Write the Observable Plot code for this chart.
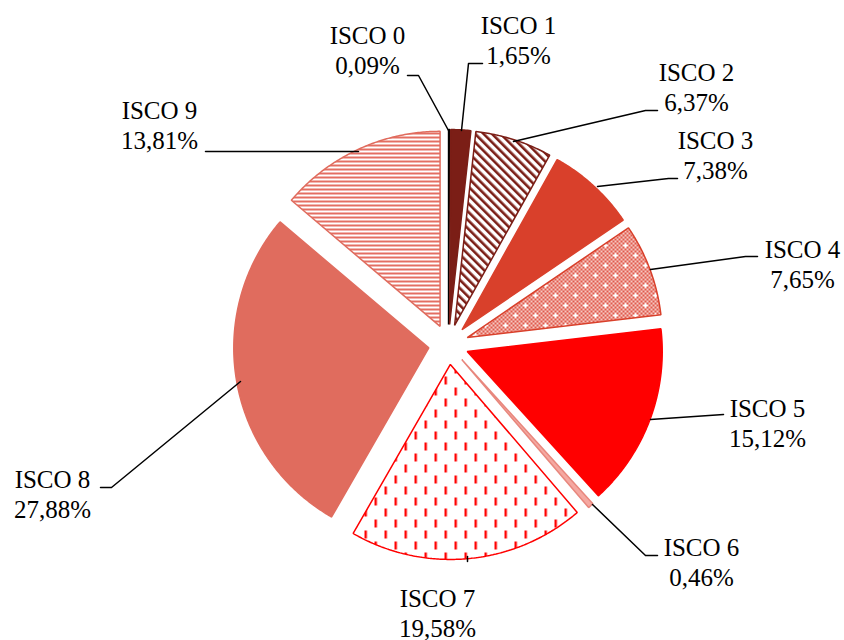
<!DOCTYPE html>
<html>
<head>
<meta charset="utf-8">
<script src="https://cdn.jsdelivr.net/npm/d3@7"></script>
<script src="https://cdn.jsdelivr.net/npm/@observablehq/plot@0.6"></script>
<style>
  html, body { margin: 0; padding: 0; background: #fff; }
</style>
</head>
<body>
<div id="chart"></div>
<script>
// ---- data ----
const names = ["ISCO 0", "ISCO 1", "ISCO 2", "ISCO 3", "ISCO 4", "ISCO 5", "ISCO 6", "ISCO 7", "ISCO 8", "ISCO 9"];
const values = [0.09, 1.65, 6.37, 7.38, 7.65, 15.12, 0.46, 19.58, 27.88, 13.81];
const pctLabels = ["0,09%", "1,65%", "6,37%", "7,38%", "7,65%", "15,12%", "0,46%", "19,58%", "27,88%", "13,81%"];

// ---- styles ----
const fills = ["#3a0c08", "#7B1E16", "url(#p2)", "#D9402B", "url(#p4)", "#FF0000", "#F5A8A1", "url(#p7)", "#E06C5E", "url(#p9)"];
const strokes = ["#000000", "#7B1E16", "#7B1E16", "#D9402B", "#D9402B", "#FF0000", "#E8877D", "#FF0000", "#E06C5E", "#E06C5E"];

// ---- layout ----
const W = 844, H = 640;
const cx = 448, cy = 344, R = 195, explode = 20;
const labelX = [367, 518, 696, 715, 802, 767, 701, 437, 52, 159];
const labelY = [43, 33, 80, 148, 257, 416, 555, 606, 487, 118]; // baseline of first line
const leaders = [
  [[407, 75], [418, 75], [448, 130]],
  [[482, 63], [468, 63], [461, 130]],
  [[657, 110], [645, 110], [513, 141]],
  [[677, 178], [668, 178], [597, 186]],
  [[757, 256], [745, 256], [650, 269]],
  [[723, 414], [650, 419]],
  [[657, 555], [645, 555], [592, 504]],
  [[467, 556], [467, 561]],
  [[100, 487], [111, 487], [240, 381]],
  [[205, 151], [358, 151]]
];

// ---- build slice polygons from the values ----
const pie = d3.pie().sort(null).value(d => d)(values);
const slicePts = [];
pie.forEach((a, i) => {
  const mid = (a.startAngle + a.endAngle) / 2;
  const ox = cx + explode * Math.sin(mid), oy = cy - explode * Math.cos(mid);
  slicePts.push({id: i, x: ox, y: oy, fill: fills[i], stroke: strokes[i]});
  const n = Math.max(2, Math.ceil((a.endAngle - a.startAngle) / (Math.PI / 360)));
  for (let k = 0; k <= n; k++) {
    const t = a.startAngle + (a.endAngle - a.startAngle) * k / n;
    slicePts.push({id: i, x: ox + R * Math.sin(t), y: oy - R * Math.cos(t), fill: fills[i], stroke: strokes[i]});
  }
});

const leaderPts = [];
leaders.forEach((pl, i) => pl.forEach(p => leaderPts.push({id: i, x: p[0], y: p[1]})));

const fs = 25;
const labels1 = names.map((n, i) => ({t: n, x: labelX[i], y: labelY[i] - 0.32 * fs}));
const labels2 = pctLabels.map((n, i) => ({t: n, x: labelX[i], y: labelY[i] + 30 - 0.32 * fs}));

const svg = Plot.plot({
  width: W,
  height: H,
  margin: 0,
  x: {domain: [0, W], range: [0, W], axis: null},
  y: {domain: [0, H], range: [0, H], axis: null},
  color: {type: "identity"},
  style: {background: "#fff"},
  marks: [
    Plot.line(slicePts, {x: "x", y: "y", z: "id", fill: "fill", stroke: "stroke", strokeWidth: 1.5, curve: "linear-closed", strokeLinejoin: "miter"}),
    Plot.line(leaderPts, {x: "x", y: "y", z: "id", stroke: "#000", strokeWidth: 1.5}),
    Plot.text(labels1, {x: "x", y: "y", text: "t", fontFamily: "Liberation Serif", fontSize: fs, fill: "#000", textAnchor: "middle", lineAnchor: "middle"}),
    Plot.text(labels2, {x: "x", y: "y", text: "t", fontFamily: "Liberation Serif", fontSize: fs, fill: "#000", textAnchor: "middle", lineAnchor: "middle"})
  ]
});

d3.select(svg).insert("defs", ":first-child").html(`
  <pattern id="p2" width="6" height="6" patternUnits="userSpaceOnUse" patternTransform="rotate(-45)">
    <rect width="6" height="6" fill="#fff"/>
    <rect width="2.6" height="6" fill="#7B1E16"/>
  </pattern>
  <pattern id="chk" width="4" height="4" patternUnits="userSpaceOnUse">
    <rect width="4" height="4" fill="#F6C8C2"/>
    <rect x="0" y="0" width="2" height="2" fill="#E05A4C"/>
    <rect x="2" y="2" width="2" height="2" fill="#E05A4C"/>
  </pattern>
  <pattern id="p4" width="20" height="20" patternUnits="userSpaceOnUse">
    <rect width="20" height="20" fill="url(#chk)"/>
    <rect x="4" y="2.5" width="2" height="5" fill="#fff"/>
    <rect x="2.5" y="4" width="5" height="2" fill="#fff"/>
    <rect x="14" y="12.5" width="2" height="5" fill="#fff"/>
    <rect x="12.5" y="14" width="5" height="2" fill="#fff"/>
  </pattern>
  <pattern id="p7" width="20" height="22" patternUnits="userSpaceOnUse">
    <rect width="20" height="22" fill="#fff"/>
    <rect x="4" y="2" width="2.4" height="8" fill="#FF0000"/>
    <rect x="14" y="13" width="2.4" height="8" fill="#FF0000"/>
  </pattern>
  <pattern id="p9" width="4" height="4" patternUnits="userSpaceOnUse">
    <rect width="4" height="4" fill="#fff"/>
    <rect y="0" width="4" height="2" fill="#E46E62"/>
  </pattern>
`);

document.getElementById("chart").appendChild(svg);
</script>
</body>
</html>
